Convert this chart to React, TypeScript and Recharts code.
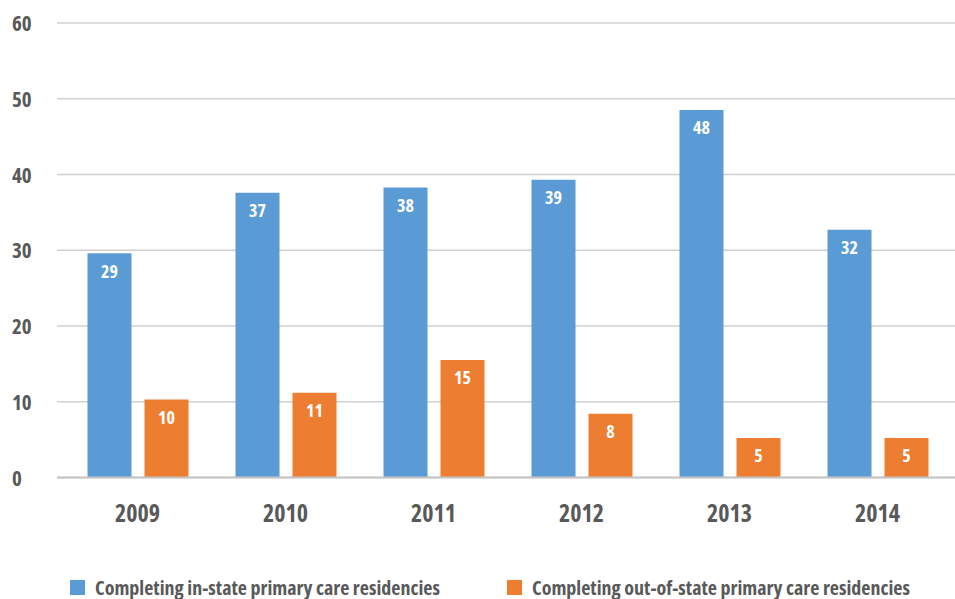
import { Bar, BarChart, CartesianGrid, LabelList, Legend, XAxis, YAxis } from "recharts";

// Residency completions by year, in-state vs out-of-state.

const years = ["2009", "2010", "2011", "2012", "2013", "2014"];
const inState = [29.6, 37.6, 38.3, 39.3, 48.5, 32.7];
const outState = [10.3, 11.2, 15.5, 8.4, 5.2, 5.2];
const inStateLabels = [29, 37, 38, 39, 48, 32];
const outStateLabels = [10, 11, 15, 8, 5, 5];
const yTicks = [0, 10, 20, 30, 40, 50, 60];

const IN_NAME = "Completing in-state primary care residencies";
const OUT_NAME = "Completing out-of-state primary care residencies";

const BLUE = "#5b9bd5";
const ORANGE = "#ed7d31";
const TEXT = "#595959";
const FONT = '"Open Sans", "DejaVu Sans", sans-serif';
const NARROW = { fontStretch: "75%" } as const;

const rows = years.map((year, i) => ({
  year,
  inState: inState[i],
  outState: outState[i],
  inLabel: inStateLabels[i],
  outLabel: outStateLabels[i],
}));

function YTick({ y, payload }: { y?: number; payload?: { value: number } }) {
  return (
    <text x={12} y={(y ?? 0) + 8} textAnchor="start" fill={TEXT} fontSize={21} fontWeight={700} fontFamily={FONT} style={NARROW}>
      {payload?.value}
    </text>
  );
}

function XTick({ x, y, payload }: { x?: number; y?: number; payload?: { value: string } }) {
  return (
    <text x={x} y={(y ?? 0) + 44} textAnchor="middle" fill={TEXT} fontSize={24} fontWeight={700} fontFamily={FONT} style={NARROW}>
      {payload?.value}
    </text>
  );
}

function LegendBox() {
  const item = (left: number, color: string, name: string) => (
    <div style={{ position: "absolute", left, top: 44, display: "flex", alignItems: "center", height: 15 }}>
      <span style={{ width: 15, height: 15, background: color, display: "inline-block", marginRight: 10 }} />
      <span style={{ color: TEXT, fontFamily: FONT, fontWeight: 700, fontSize: 20, whiteSpace: "nowrap", ...NARROW }}>
        {name}
      </span>
    </div>
  );
  return (
    <div style={{ position: "relative", width: 955, height: 63.5 }}>
      {item(70, BLUE, IN_NAME)}
      {item(507, ORANGE, OUT_NAME)}
    </div>
  );
}

export default function App() {
  return (
    <div style={{ position: "absolute", left: 0, top: 0, background: "#fff" }}>
      <BarChart
        width={955}
        height={599}
        data={rows}
        margin={{ top: 23, right: 0, bottom: 0, left: 0 }}
        barSize={44}
        barGap={13}
      >
        <CartesianGrid stroke="#d0d0d0" strokeWidth={1.5} vertical={false} />
        <XAxis
          dataKey="year"
          height={58}
          tickLine={false}
          tickSize={0}
          tickMargin={0}
          axisLine={{ stroke: "#c4c4c4", strokeWidth: 2 }}
          padding={{ left: 6.5, right: 3.5 }}
          tick={<XTick />}
        />
        <YAxis
          width={57}
          domain={[0, 60]}
          ticks={yTicks}
          axisLine={false}
          tickLine={false}
          tick={<YTick />}
        />
        <Legend verticalAlign="bottom" content={<LegendBox />} wrapperStyle={{ left: 0, width: 955 }} />
        <Bar dataKey="inState" name={IN_NAME} fill={BLUE} isAnimationActive={false}>
          <LabelList
            dataKey="inLabel"
            position="insideTop"
            offset={11.6}
            fill="#fff"
            fontSize={18}
            fontWeight={700}
            fontFamily={FONT}
            style={NARROW}
          />
        </Bar>
        <Bar dataKey="outState" name={OUT_NAME} fill={ORANGE} isAnimationActive={false}>
          <LabelList
            dataKey="outLabel"
            position="insideTop"
            offset={11.6}
            fill="#fff"
            fontSize={18}
            fontWeight={700}
            fontFamily={FONT}
            style={NARROW}
          />
        </Bar>
      </BarChart>
    </div>
  );
}
